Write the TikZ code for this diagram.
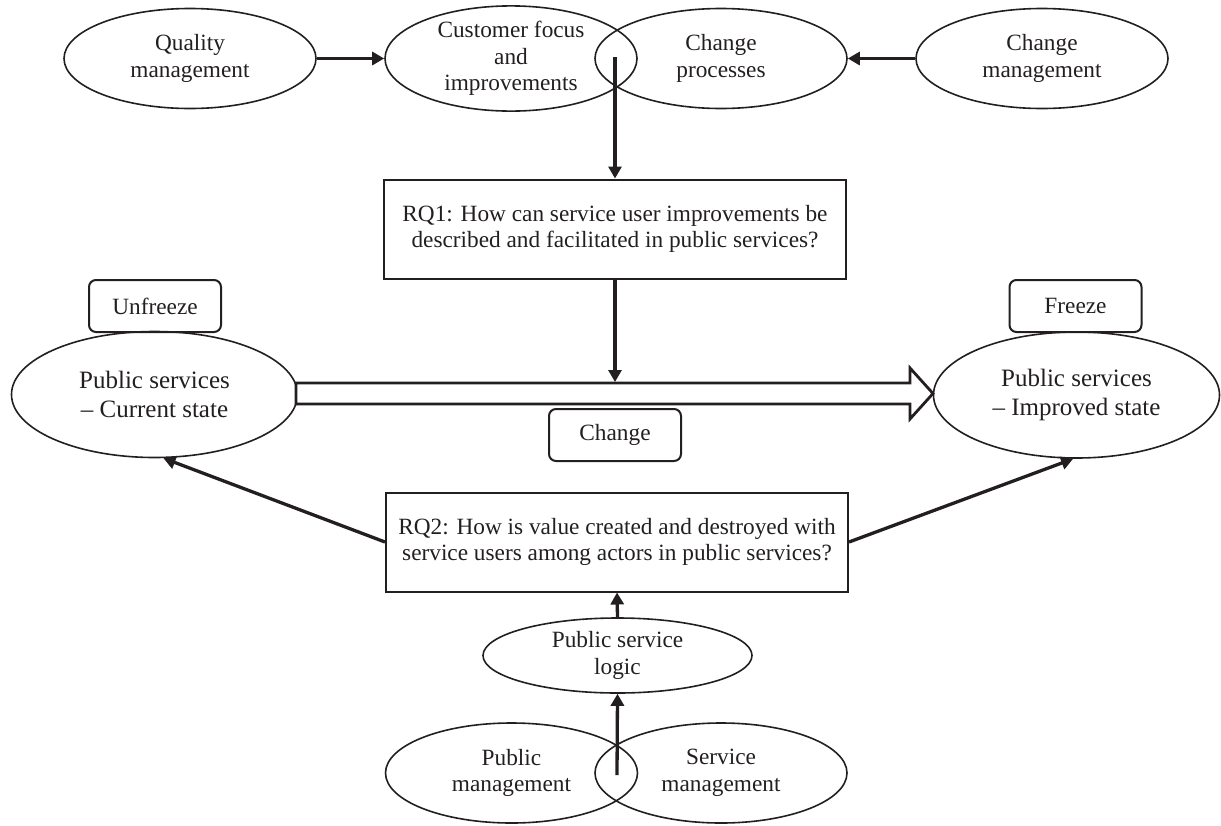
\documentclass[tikz,border=0pt]{standalone}
\usepackage{fontspec}
\setmainfont{Liberation Serif}
\usetikzlibrary{shapes.geometric,arrows.meta,calc}
\definecolor{ink}{RGB}{35,31,32}
\begin{document}
\begin{tikzpicture}[x=1pt,y=-1pt,
  every node/.style={text=ink, font=\fontsize{23.3}{26.5}\selectfont, align=center, inner sep=0pt},
  oval/.style={ellipse, draw=ink, line width=1.6pt, minimum width=252pt, minimum height=100pt},
  bigoval/.style={ellipse, draw=ink, line width=1.6pt, minimum width=286pt, minimum height=126pt, font=\fontsize{25}{29}\selectfont},
  rqbox/.style={draw=ink, line width=2pt, minimum width=462pt, minimum height=99pt},
  tagbox/.style={draw=ink, line width=2pt, rounded corners=7pt, minimum width=132pt, minimum height=52pt},
  conn/.style={draw=ink, line width=3.3pt, -{Triangle[length=12pt,width=13pt]}},
]
\useasboundingbox (0,0) rectangle (1221,825);

% top ellipses
\node[oval] (qm) at (190,58.5) {Quality\\management};
\node[oval] (cf) at (511,58.5) {Customer focus\\and\\improvements};
\node[oval] (cp) at (721,58.5) {Change\\processes};
\node[oval] (cm) at (1042,58.5) {Change\\management};

% research questions
\node[rqbox] (rq1) at (615,229) {RQ1: How can service user improvements be\\described and facilitated in public services?};
\node[rqbox] (rq2) at (617,542) {RQ2: How is value created and destroyed with\\service users among actors in public services?};

% states
\node[bigoval] (cur) at (154.5,394.5) {Public services\\\textendash\ Current state};
\node[bigoval] (imp) at (1076.5,395) {Public services\\\textendash\ Improved state};

% tags
\node[tagbox] (unf) at (155,306) {Unfreeze};
\node[tagbox] (frz) at (1075.5,306) {Freeze};
\node[tagbox] (chg) at (615,435) {Change};

% bottom ellipses
\node[ellipse, draw=ink, line width=1.6pt, minimum width=269pt, minimum height=75pt] (psl) at (617.5,655.5) {Public service\\logic};
\node[oval] (pm) at (511.5,773) {Public\\management};
\node[oval] (sm) at (721,773) {Service\\management};

% big hollow arrow
\draw[ink, line width=2.8pt, line join=miter, fill=white]
  (296,383) -- (910,383) -- (910,368) -- (933,393.5) -- (910,419) -- (910,404) -- (296,404) -- cycle;

% free connector ends
\coordinate (ov1) at (615,57);
\coordinate (bt) at (615,382);
\coordinate (ov2) at (617,775);

% connectors
\draw[conn] (qm) -- (cf);
\draw[conn] (cm) -- (cp);
\draw[conn] (ov1) -- (rq1.north);
\draw[conn] (rq1.south) -- (bt);
\draw[conn] (rq2.west) -- (cur.-82);
\draw[conn] (rq2.east) -- (imp.-93);
\draw[conn] (psl.north) -- (rq2.south);
\draw[conn] (ov2) -- (psl.south);
\end{tikzpicture}
\end{document}
